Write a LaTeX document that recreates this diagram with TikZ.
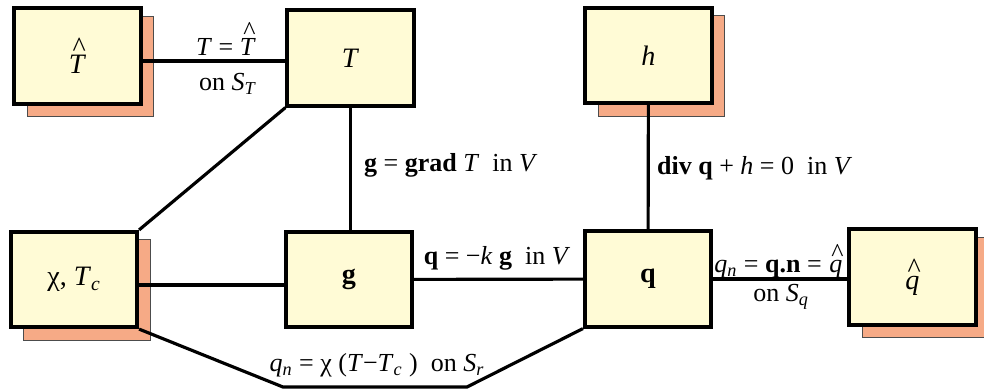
\documentclass[tikz,border=0pt]{standalone}
\usepackage{fontspec}
\setmainfont{Liberation Serif}
\usepackage{xcolor}
\usetikzlibrary{backgrounds}
\definecolor{boxfill}{RGB}{255,251,214}
\definecolor{shadefill}{RGB}{246,170,134}
\newcommand{\hatted}[1]{\leavevmode\vbox{\offinterlineskip
    \halign{\hfil##\hfil\cr\hskip0.12em\^{}\cr\noalign{\kern-0.05em}#1\cr}}}

\begin{document}
\begin{tikzpicture}[x=0.02cm,y=-0.02cm,
    var/.style={draw,line width=2.1pt,fill=boxfill,minimum width=2.53cm,
        minimum height=1.91cm,inner sep=0pt,font=\fontsize{16}{18}\selectfont},
    link/.style={line width=1.8pt},
    eqn/.style={inner sep=1pt,font=\fontsize{14.8}{17}\selectfont},
    shade/.style={fill=shadefill,draw=black!70,line width=0.5pt}]
    \useasboundingbox (0,0) rectangle (984,390);
    % boxes
    \node[var] (That) at (77.5,56) {\hatted{\textit{T}}};
    \node[var] (T) at (350.5,58) {\textit{T}};
    \node[var] (h) at (648.5,55.5) {\textit{h}};
    \node[var] (chi) at (74,279.5) {χ, \textit{T}\textsubscript{\textit{c}}};
    \node[var] (g) at (349,279.5) {\textbf{g}};
    \node[var] (q) at (648,279) {\textbf{q}};
    \node[var] (qhat) at (912.5,277) {\hatted{\textit{q}}};
    % shadows behind the given data
    \begin{scope}[on background layer]
    \foreach \b in {That,h,chi,qhat}
        \draw[shade] ([xshift=0.3cm,yshift=-0.22cm]\b.south west)
            rectangle ([xshift=0.22cm,yshift=-0.2cm]\b.north east);
    \end{scope}
    % links
    \draw[link] ([yshift=-0.1cm]That.east) -- ([yshift=-0.1cm]That.east -| T.west);
    \draw[link] (T.south) -- (T.south |- g.north);
    \draw[link] (T.south west) -- (chi.north east);
    \draw[link] ([yshift=-0.11cm]chi.east) -- ([yshift=-0.11cm]chi.east -| g.west);
    \draw[link] (g) -- (q);
    \draw[link] (h) -- (q);
    \draw[link] (q.east) -- (q.east -| qhat.west);
    \coordinate (bl) at (283,387);
    \coordinate (br) at (467,387);
    \draw[link] (chi.south east) -- (bl) -- (br) -- (q.south west);
    % labels
    \node[eqn] (lab1) at (226,39) {\textit{T} = \hatted{\textit{T}}};
    \node[eqn] (lab2) at (228,84) {on \textit{S}\textsubscript{\textit{T}}};
    \node[eqn,anchor=west] (lab3) at (362,165)
        {\textbf{g} = \textbf{grad} \textit{T}\ \ in \textit{V}};
    \node[eqn,anchor=west] (lab4) at (655,168)
        {\textbf{div q} + \textit{h} = 0\ \ in \textit{V}};
    \node[eqn] (lab5) at (497,258) {\textbf{q} = −\textit{k} \textbf{g}\ \ in \textit{V}};
    \node[eqn] (lab6) at (779,261)
        {\textit{q}\textsubscript{\textit{n}} = \textbf{q.n} = \hatted{\textit{q}}};
    \node[eqn] (lab7) at (781,297) {on \textit{S}\textsubscript{\textit{q}}};
    \node[eqn] (lab8) at (377,365)
        {\textit{q}\textsubscript{\textit{n}} = χ (\textit{T}−\textit{T}\textsubscript{\textit{c}} )\ \ on \textit{S}\textsubscript{\textit{r}}};
\end{tikzpicture}
\end{document}
